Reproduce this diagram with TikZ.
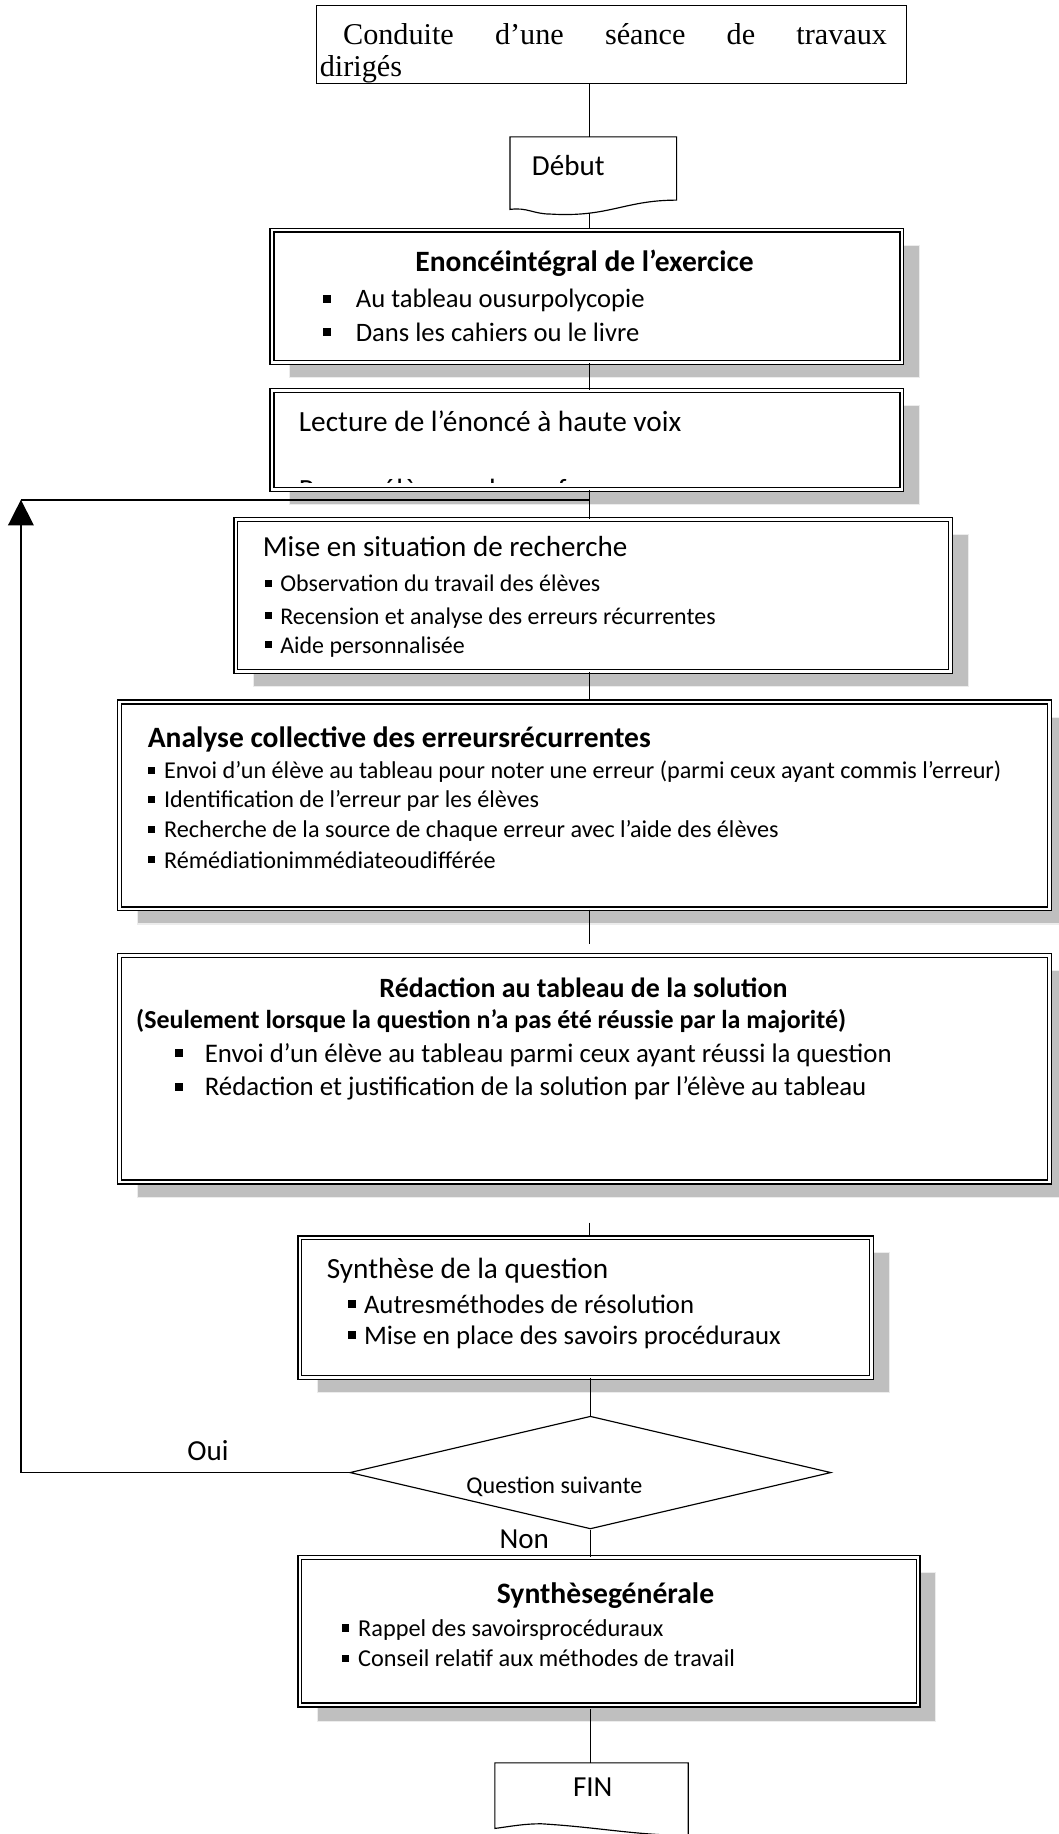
\documentclass[tikz,border=0pt]{standalone}
\usepackage{fontspec}
\usepackage{graphicx}
\setmainfont{Carlito}
\newfontfamily\tnr{Liberation Serif}
\usetikzlibrary{shapes.geometric,arrows.meta}
\newcommand{\bsq}{\rule[0.2em]{0.3em}{0.3em}}
\newcommand{\fs}[1]{\fontsize{#1}{#1}\selectfont}
\tikzset{
  shadowbox/.style={fill=gray!50, draw=gray!15, line width=1pt},
  dbox/.style={draw, double, double distance=2.2pt, line width=1.1pt, fill=white, inner sep=0pt},
  plainbox/.style={draw, line width=1pt, fill=white, inner sep=0pt},
  ghost/.style={inner sep=0pt},
  conn/.style={line width=1pt},
  txt/.style={inner sep=0pt, anchor=base west},
  ctxt/.style={inner sep=0pt, anchor=base},
}
\begin{document}
\begin{tikzpicture}[x=1pt,y=-1pt]
\useasboundingbox (0,0) rectangle (910.4,1578);
% ---------- top title box
\node[plainbox, minimum width=508, minimum height=67] (top) at (526,38.5) {};
\node[txt, font=\tnr\fs{26}] (t1) at (295,38) {\makebox[468pt][s]{Conduite d’une séance de travaux}};
\node[txt, font=\tnr\fs{26}] (t2) at (275,66) {dirigés};
% ---------- Debut document shape
\node[ghost, minimum width=143, minimum height=62] (debut) at (510.5,149) {};
\draw[line width=1pt, fill=white] (debut.north west) -- (debut.north east) -- ([yshift=8]debut.south east)
  .. controls +(-45,0) and +(50,3) .. ([xshift=35,yshift=-4]debut.south west)
  .. controls +(-15,0) and +(15,-2) .. (debut.south west) -- cycle;
\node[txt, font=\fs{25}] (debutt) at (457.5,151) {Début};
% ---------- box 1
\fill[shadowbox] (249,211) rectangle (791,325);
\node[dbox, minimum width=542, minimum height=114] (b1) at (505,255) {};
\node[ctxt, font=\bfseries\fs{25.4}] (b1t) at (503,234) {Enoncéintégral de l’exercice};
\node[txt, font=\fs{22.9}] (b1a) at (278,265) {\bsq};
\node[txt, font=\fs{22.9}] (b1b) at (306,265) {Au tableau ousurpolycopie};
\node[txt, font=\fs{22.9}] (b1c) at (278,294) {\bsq};
\node[txt, font=\fs{22.9}] (b1d) at (306,294) {Dans les cahiers ou le livre};
% ---------- box 2
\fill[shadowbox] (249,349) rectangle (791,434);
\node[dbox, minimum width=542, minimum height=85] (b2) at (505,378.5) {};
\node[txt, font=\fs{25.2}] (b2t) at (257,371) {Lecture de l’énoncé à haute voix};
\begin{scope}
\clip (237,339) rectangle (773,415.5);
\node[txt, font=\fs{25.2}] (b2u) at (257,430) {Par un élève ou le professeur};
\end{scope}
% ---------- box 3
\fill[shadowbox] (218,460) rectangle (833,591);
\node[dbox, minimum width=615, minimum height=131] (b3) at (510.5,512.5) {};
\node[txt, font=\fs{25}] (b3t) at (226,479) {Mise en situation de recherche};
\foreach \yy/\tt [count=\i] in {509/Observation du travail des élèves, 537/Recension et analyse des erreurs récurrentes, 562/Aide personnalisée}{
  \node[txt, font=\fs{20.6}] (b3s\i) at (228,\yy) {\bsq};
  \node[txt, font=\fs{20.6}] (b3x\i) at (241,\yy) {\tt};
}
% ---------- box 4
\fill[shadowbox] (118,617) rectangle (918,795);
\node[dbox, minimum width=800, minimum height=178] (b4) at (503,693) {};
\node[txt, font=\bfseries\fs{25.4}] (b4t) at (127,643) {Analyse collective des erreursrécurrentes};
\foreach \yy/\tt [count=\i] in {670/{Envoi d’un élève au tableau pour noter une erreur (parmi ceux ayant commis l’erreur)}, 695/Identification de l’erreur par les élèves, 721/Recherche de la source de chaque erreur avec l’aide des élèves, 747/Rémédiationimmédiateoudifférée}{
  \node[txt, font=\fs{20.8}] (b4s\i) at (127,\yy) {\bsq};
  \node[txt, font=\fs{20.8}] (b4x\i) at (141,\yy) {\tt};
}
% ---------- box 5
\fill[shadowbox] (118,835) rectangle (918,1030);
\node[dbox, minimum width=800, minimum height=195] (b5) at (503,919.5) {};
\node[ctxt, font=\bfseries\fs{24}] (b5t) at (502,858) {Rédaction au tableau de la solution};
\node[txt, font=\bfseries\fs{22.3}] (b5s) at (117,885) {(Seulement lorsque la question n’a pas été réussie par la majorité)};
\node[txt, font=\fs{23.1}] (b5a) at (150,914) {\bsq};
\node[txt, font=\fs{23.1}] (b5b) at (176,914) {Envoi d’un élève au tableau parmi ceux ayant réussi la question};
\node[txt, font=\fs{23.1}] (b5c) at (150,943) {\bsq};
\node[txt, font=\fs{23.1}] (b5d) at (176,943) {Rédaction et justification de la solution par l’élève au tableau};
% ---------- box 6
\fill[shadowbox] (273,1078) rectangle (765,1198);
\node[dbox, minimum width=492, minimum height=120] (b6) at (504,1125) {};
\node[txt, font=\fs{25.2}] (b6t) at (281,1100) {Synthèse de la question};
\node[txt, font=\fs{23}] (b6a) at (299,1130) {\bsq};
\node[txt, font=\fs{23}] (b6b) at (313,1130) {Autresméthodes de résolution};
\node[txt, font=\fs{23}] (b6c) at (299,1157) {\bsq};
\node[txt, font=\fs{23}] (b6d) at (313,1157) {Mise en place des savoirs procéduraux};
% ---------- decision
\node[draw, diamond, line width=1pt, inner sep=0pt, minimum width=414, minimum height=97] (q) at (508,1267) {};
\node[inner sep=0pt, font=\fs{20.7}] (qt) at (477,1279) {Question suivante};
\node[inner sep=0pt, font=\fs{25}] (oui) at (179,1248) {Oui};
\node[inner sep=0pt, font=\fs{25}] (non) at (451,1324) {Non};
% ---------- box 7
\fill[shadowbox] (273,1353) rectangle (805,1481);
\node[dbox, minimum width=532, minimum height=127] (b7) at (524,1403.5) {};
\node[ctxt, font=\bfseries\fs{25.5}] (b7t) at (521,1380) {Synthèsegénérale};
\node[txt, font=\fs{20.9}] (b7a) at (294,1408) {\bsq};
\node[txt, font=\fs{20.9}] (b7b) at (308,1408) {Rappel des savoirsprocéduraux};
\node[txt, font=\fs{20.9}] (b7c) at (294,1434) {\bsq};
\node[txt, font=\fs{20.9}] (b7d) at (308,1434) {Conseil relatif aux méthodes de travail};
% ---------- FIN document shape
\node[ghost, minimum width=166, minimum height=64] (fin) at (509,1549) {};
\draw[line width=1pt, fill=white] (fin.north west) -- (fin.north east) -- ([yshift=2]fin.south east)
  .. controls +(-45,0) and +(50,3) .. ([xshift=40,yshift=12]fin.south west)
  .. controls +(-15,0) and +(15,-2) .. ([yshift=8]fin.south west) -- cycle;
\node[inner sep=0pt, font=\fs{25}] (fint) at (510,1538) {FIN};
% ---------- connectors
\coordinate (c1) at (18,430);
\coordinate (c2) at (507,430);
\coordinate (c3) at (507,812);
\coordinate (c4) at (507,1052);
\draw[conn] (top.south -| c2) -- (debut.north -| c2);
\draw[conn] ([yshift=-3]debut.south -| c2) -- (b1.north -| c2);
\draw[conn] (b1.south -| c2) -- (b2.north -| c2);
\draw[conn] (b2.south -| c2) -- (b3.north -| c2);
\draw[conn] (b3.south -| c2) -- (b4.north -| c2);
\draw[conn] (b4.south -| c3) -- (c3);
\draw[conn] (c4) -- (b6.north -| c4);
\draw[conn] (b6.south -| q.north) -- (q.north);
\draw[conn] (q.south) -- (b7.north -| q.south);
\draw[conn] ([yshift=-3]b7.south -| q.south) -- (fin.north -| q.south);
\draw[line width=1.3pt, -{Triangle[length=22pt,width=22pt]}] (q.west) -| (c1);
\draw[line width=1.3pt] (c1) -- (c2);
\end{tikzpicture}
\end{document}
